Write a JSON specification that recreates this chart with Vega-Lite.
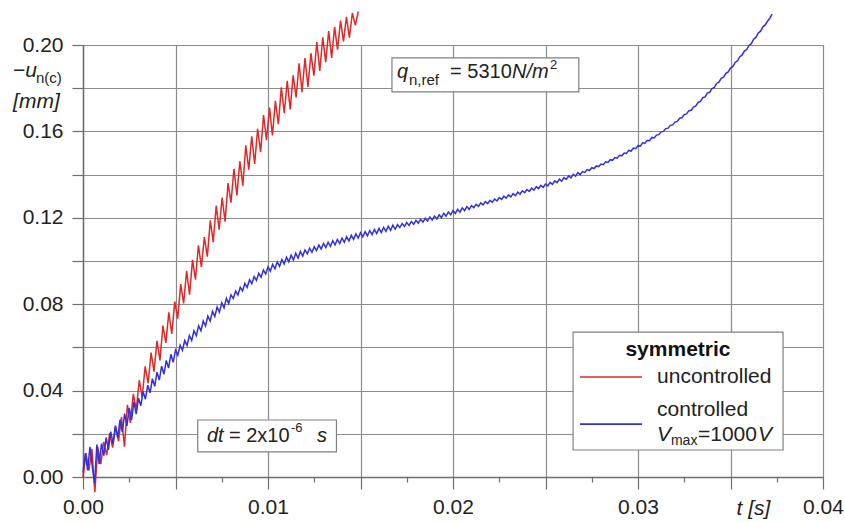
{
"$schema": "https://vega.github.io/schema/vega-lite/v6.json",
"width": 740, "height": 432,
"autosize": {"type": "none"},
"padding": {"left": 83, "top": 45, "right": 22, "bottom": 45},
"background": "white",
"config": {"view": {"stroke": null}, "font": "Liberation Sans",
 "axis": {"labelFont": "Liberation Sans", "labelFontSize": 21, "labelColor": "#222222", "domainColor": "#6e6e6e", "domainWidth": 1.5, "tickColor": "#6e6e6e", "tickWidth": 1.2, "gridColor": "#8c8c8c", "gridWidth": 1.2}},
"datasets": {
"uncontrolled": [
{"t":0,"u":0.0},{"t":0.00016,"u":0.011},{"t":0.00032,"u":0.003},{"t":0.00048,"u":0.013},{"t":0.00064,"u":-0.007},{"t":0.0008,"u":0.014},{"t":0.00096,"u":0.006},{"t":0.00112,"u":0.0163},{"t":0.00128,"u":0.0101},{"t":0.00144,"u":0.0203},{"t":0.0016,"u":0.0136},{"t":0.00176,"u":0.0234},{"t":0.00192,"u":0.0166},{"t":0.00208,"u":0.0278},{"t":0.00224,"u":0.014},{"t":0.0024,"u":0.0334},{"t":0.00256,"u":0.025},{"t":0.00272,"u":0.0385},{"t":0.00288,"u":0.0311},{"t":0.00304,"u":0.0448},{"t":0.0032,"u":0.037},{"t":0.00336,"u":0.0512},{"t":0.00352,"u":0.0434},{"t":0.00368,"u":0.0576},{"t":0.00384,"u":0.0488},{"t":0.004,"u":0.063},{"t":0.00416,"u":0.054},{"t":0.00432,"u":0.0701},{"t":0.00448,"u":0.0621},{"t":0.00464,"u":0.0762},{"t":0.0048,"u":0.0662},{"t":0.00496,"u":0.0812},{"t":0.00512,"u":0.0733},{"t":0.00528,"u":0.0893},{"t":0.00544,"u":0.0804},{"t":0.0056,"u":0.0954},{"t":0.00576,"u":0.0844},{"t":0.00592,"u":0.1005},{"t":0.00608,"u":0.0914},{"t":0.00624,"u":0.1073},{"t":0.0064,"u":0.0972},{"t":0.00656,"u":0.1111},{"t":0.00672,"u":0.102},{"t":0.00688,"u":0.1188},{"t":0.00704,"u":0.1087},{"t":0.0072,"u":0.1256},{"t":0.00736,"u":0.1145},{"t":0.00752,"u":0.1294},{"t":0.00768,"u":0.1182},{"t":0.00784,"u":0.1361},{"t":0.008,"u":0.127},{"t":0.00816,"u":0.1427},{"t":0.00832,"u":0.1304},{"t":0.00848,"u":0.1462},{"t":0.00864,"u":0.1349},{"t":0.0088,"u":0.1536},{"t":0.00896,"u":0.1423},{"t":0.00912,"u":0.1577},{"t":0.00928,"u":0.1449},{"t":0.00944,"u":0.1612},{"t":0.0096,"u":0.1504},{"t":0.00976,"u":0.1676},{"t":0.00992,"u":0.1559},{"t":0.01008,"u":0.171},{"t":0.01024,"u":0.1581},{"t":0.0104,"u":0.1742},{"t":0.01056,"u":0.1633},{"t":0.01072,"u":0.1804},{"t":0.01088,"u":0.1684},{"t":0.01104,"u":0.1834},{"t":0.0112,"u":0.1702},{"t":0.01136,"u":0.186},{"t":0.01152,"u":0.1757},{"t":0.01168,"u":0.1915},{"t":0.01184,"u":0.1782},{"t":0.012,"u":0.194},{"t":0.01216,"u":0.1806},{"t":0.01232,"u":0.1962},{"t":0.01248,"u":0.1858},{"t":0.01264,"u":0.2014},{"t":0.0128,"u":0.188},{"t":0.01296,"u":0.2036},{"t":0.01312,"u":0.1921},{"t":0.01328,"u":0.2065},{"t":0.01344,"u":0.194},{"t":0.0136,"u":0.2084},{"t":0.01376,"u":0.1978},{"t":0.01392,"u":0.2113},{"t":0.01408,"u":0.2017},{"t":0.01424,"u":0.213},{"t":0.0144,"u":0.2034},{"t":0.01456,"u":0.2148},{"t":0.01472,"u":0.2091},{"t":0.01488,"u":0.2155}
],
"controlled": [
{"t":0,"u":0.002},{"t":0.000125,"u":0.011},{"t":0.00025,"u":0.003},{"t":0.000375,"u":0.014},{"t":0.0005,"u":0.005},{"t":0.000625,"u":-0.003},{"t":0.00075,"u":0.015},{"t":0.000875,"u":0.006},
{"t":0.001,"u":0.0155},{"t":0.001125,"u":0.0099},{"t":0.00125,"u":0.0183},{"t":0.001375,"u":0.0126},{"t":0.0015,"u":0.021},{"t":0.001625,"u":0.0154},{"t":0.00175,"u":0.0238},{"t":0.001875,"u":0.0181},
{"t":0.002,"u":0.0265},{"t":0.002125,"u":0.0209},{"t":0.00225,"u":0.0293},{"t":0.002375,"u":0.0236},{"t":0.0025,"u":0.032},{"t":0.002625,"u":0.0264},{"t":0.00275,"u":0.0348},{"t":0.002875,"u":0.0291},
{"t":0.003,"u":0.0365},{"t":0.003125,"u":0.033},{"t":0.00325,"u":0.0395},{"t":0.003375,"u":0.036},{"t":0.0035,"u":0.0425},{"t":0.003625,"u":0.039},{"t":0.00375,"u":0.0455},{"t":0.003875,"u":0.042},
{"t":0.004,"u":0.0485},{"t":0.004125,"u":0.0449},{"t":0.00425,"u":0.0513},{"t":0.004375,"u":0.0476},{"t":0.0045,"u":0.054},{"t":0.004625,"u":0.0504},{"t":0.00475,"u":0.0568},{"t":0.004875,"u":0.0531},
{"t":0.005,"u":0.0587},{"t":0.005125,"u":0.0564},{"t":0.00525,"u":0.061},{"t":0.005375,"u":0.0587},{"t":0.0055,"u":0.0632},{"t":0.005625,"u":0.0609},{"t":0.00575,"u":0.0655},{"t":0.005875,"u":0.0632},
{"t":0.006,"u":0.0677},{"t":0.006125,"u":0.0654},{"t":0.00625,"u":0.07},{"t":0.006375,"u":0.0677},{"t":0.0065,"u":0.0722},{"t":0.006625,"u":0.0699},{"t":0.00675,"u":0.0745},{"t":0.006875,"u":0.0722},
{"t":0.007,"u":0.0767},{"t":0.007125,"u":0.0743},{"t":0.00725,"u":0.0787},{"t":0.007375,"u":0.0763},{"t":0.0075,"u":0.0807},{"t":0.007625,"u":0.0783},{"t":0.00775,"u":0.0827},{"t":0.007875,"u":0.0803},
{"t":0.008,"u":0.0843},{"t":0.008125,"u":0.0826},{"t":0.00825,"u":0.0861},{"t":0.008375,"u":0.0843},{"t":0.0085,"u":0.0878},{"t":0.008625,"u":0.0861},{"t":0.00875,"u":0.0896},{"t":0.008875,"u":0.0878},
{"t":0.009,"u":0.0913},{"t":0.009125,"u":0.0895},{"t":0.00925,"u":0.0928},{"t":0.009375,"u":0.091},{"t":0.0095,"u":0.0943},{"t":0.009625,"u":0.0925},{"t":0.00975,"u":0.0958},{"t":0.009875,"u":0.094},
{"t":0.01,"u":0.0973},{"t":0.010125,"u":0.0953},{"t":0.01025,"u":0.0984},{"t":0.010375,"u":0.0964},{"t":0.0105,"u":0.0996},{"t":0.010625,"u":0.0975},{"t":0.01075,"u":0.1007},{"t":0.010875,"u":0.0986},
{"t":0.011,"u":0.1018},{"t":0.011125,"u":0.0996},{"t":0.01125,"u":0.1027},{"t":0.011375,"u":0.1005},{"t":0.0115,"u":0.1036},{"t":0.011625,"u":0.1014},{"t":0.01175,"u":0.1044},{"t":0.011875,"u":0.1023},
{"t":0.012,"u":0.1051},{"t":0.012125,"u":0.1033},{"t":0.01225,"u":0.1059},{"t":0.012375,"u":0.104},{"t":0.0125,"u":0.1066},{"t":0.012625,"u":0.1048},{"t":0.01275,"u":0.1074},{"t":0.012875,"u":0.1055},
{"t":0.013,"u":0.1081},{"t":0.013125,"u":0.1062},{"t":0.01325,"u":0.1087},{"t":0.013375,"u":0.1068},{"t":0.0135,"u":0.1094},{"t":0.013625,"u":0.1075},{"t":0.01375,"u":0.11},{"t":0.013875,"u":0.1081},
{"t":0.014,"u":0.1106},{"t":0.014125,"u":0.1087},{"t":0.01425,"u":0.1112},{"t":0.014375,"u":0.1093},{"t":0.0145,"u":0.1119},{"t":0.014625,"u":0.11},{"t":0.01475,"u":0.1125},{"t":0.014875,"u":0.1106},
{"t":0.015,"u":0.1131},{"t":0.015125,"u":0.1112},{"t":0.01525,"u":0.1136},{"t":0.015375,"u":0.1117},{"t":0.0155,"u":0.1141},{"t":0.015625,"u":0.1122},{"t":0.01575,"u":0.1146},{"t":0.015875,"u":0.1127},
{"t":0.016,"u":0.1151},{"t":0.016125,"u":0.1132},{"t":0.01625,"u":0.1156},{"t":0.016375,"u":0.1137},{"t":0.0165,"u":0.1161},{"t":0.016625,"u":0.1142},{"t":0.01675,"u":0.1166},{"t":0.016875,"u":0.1147},
{"t":0.017,"u":0.1168},{"t":0.017125,"u":0.1155},{"t":0.01725,"u":0.1173},{"t":0.017375,"u":0.116},{"t":0.0175,"u":0.1178},{"t":0.017625,"u":0.1165},{"t":0.01775,"u":0.1183},{"t":0.017875,"u":0.117},
{"t":0.018,"u":0.1188},{"t":0.018125,"u":0.1175},{"t":0.01825,"u":0.1193},{"t":0.018375,"u":0.118},{"t":0.0185,"u":0.1198},{"t":0.018625,"u":0.1185},{"t":0.01875,"u":0.1203},{"t":0.018875,"u":0.119},
{"t":0.019,"u":0.1208},{"t":0.019125,"u":0.1195},{"t":0.01925,"u":0.1214},{"t":0.019375,"u":0.1201},{"t":0.0195,"u":0.1221},{"t":0.019625,"u":0.1208},{"t":0.01975,"u":0.1227},{"t":0.019875,"u":0.1214},
{"t":0.02,"u":0.1233},{"t":0.020125,"u":0.122},{"t":0.02025,"u":0.1239},{"t":0.020375,"u":0.1226},{"t":0.0205,"u":0.1246},{"t":0.020625,"u":0.1233},{"t":0.02075,"u":0.1252},{"t":0.020875,"u":0.1239},
{"t":0.021,"u":0.1256},{"t":0.021125,"u":0.1247},{"t":0.02125,"u":0.1262},{"t":0.021375,"u":0.1253},{"t":0.0215,"u":0.1269},{"t":0.021625,"u":0.126},{"t":0.02175,"u":0.1275},{"t":0.021875,"u":0.1266},
{"t":0.022,"u":0.1281},{"t":0.022125,"u":0.1272},{"t":0.02225,"u":0.1287},{"t":0.022375,"u":0.1278},{"t":0.0225,"u":0.1294},{"t":0.022625,"u":0.1285},{"t":0.02275,"u":0.13},{"t":0.022875,"u":0.1291},
{"t":0.023,"u":0.1306},{"t":0.023125,"u":0.1297},{"t":0.02325,"u":0.1312},{"t":0.023375,"u":0.1303},{"t":0.0235,"u":0.1319},{"t":0.023625,"u":0.131},{"t":0.02375,"u":0.1325},{"t":0.023875,"u":0.1316},
{"t":0.024,"u":0.1331},{"t":0.024125,"u":0.1322},{"t":0.02425,"u":0.1337},{"t":0.024375,"u":0.1328},{"t":0.0245,"u":0.1344},{"t":0.024625,"u":0.1335},{"t":0.02475,"u":0.135},{"t":0.024875,"u":0.1341},
{"t":0.025,"u":0.1356},{"t":0.025125,"u":0.1348},{"t":0.02525,"u":0.1364},{"t":0.025375,"u":0.1355},{"t":0.0255,"u":0.1371},{"t":0.025625,"u":0.1363},{"t":0.02575,"u":0.1379},{"t":0.025875,"u":0.137},
{"t":0.026,"u":0.1386},{"t":0.026125,"u":0.1378},{"t":0.02625,"u":0.1394},{"t":0.026375,"u":0.1385},{"t":0.0265,"u":0.1401},{"t":0.026625,"u":0.1393},{"t":0.02675,"u":0.1409},{"t":0.026875,"u":0.14},
{"t":0.027,"u":0.1414},{"t":0.027125,"u":0.141},{"t":0.02725,"u":0.1423},{"t":0.027375,"u":0.1419},{"t":0.0275,"u":0.1432},{"t":0.027625,"u":0.1428},{"t":0.02775,"u":0.144},{"t":0.027875,"u":0.1437},
{"t":0.028,"u":0.1449},{"t":0.028125,"u":0.1446},{"t":0.02825,"u":0.1459},{"t":0.028375,"u":0.1456},{"t":0.0285,"u":0.1469},{"t":0.028625,"u":0.1466},{"t":0.02875,"u":0.1479},{"t":0.028875,"u":0.1476},
{"t":0.029,"u":0.1489},{"t":0.029125,"u":0.1487},{"t":0.02925,"u":0.15},{"t":0.029375,"u":0.1498},{"t":0.0295,"u":0.1512},{"t":0.029625,"u":0.1509},{"t":0.02975,"u":0.1523},{"t":0.029875,"u":0.152},
{"t":0.03,"u":0.1534},{"t":0.030125,"u":0.1532},{"t":0.03025,"u":0.1547},{"t":0.030375,"u":0.1545},{"t":0.0305,"u":0.1559},{"t":0.030625,"u":0.1557},{"t":0.03075,"u":0.1572},{"t":0.030875,"u":0.157},
{"t":0.031,"u":0.1583},{"t":0.031125,"u":0.1585},{"t":0.03125,"u":0.1598},{"t":0.031375,"u":0.16},{"t":0.0315,"u":0.1613},{"t":0.031625,"u":0.1615},{"t":0.03175,"u":0.1628},{"t":0.031875,"u":0.163},
{"t":0.032,"u":0.1643},{"t":0.032125,"u":0.1646},{"t":0.03225,"u":0.1661},{"t":0.032375,"u":0.1663},{"t":0.0325,"u":0.1678},{"t":0.032625,"u":0.1681},{"t":0.03275,"u":0.1696},{"t":0.032875,"u":0.1698},
{"t":0.033,"u":0.1713},{"t":0.033125,"u":0.1718},{"t":0.03325,"u":0.1734},{"t":0.033375,"u":0.1739},{"t":0.0335,"u":0.1756},{"t":0.033625,"u":0.176},{"t":0.03375,"u":0.1777},{"t":0.033875,"u":0.1781},
{"t":0.034,"u":0.1798},{"t":0.034125,"u":0.1804},{"t":0.03425,"u":0.1822},{"t":0.034375,"u":0.1828},{"t":0.0345,"u":0.1846},{"t":0.034625,"u":0.1851},{"t":0.03475,"u":0.1869},{"t":0.034875,"u":0.1875},
{"t":0.035,"u":0.1893},{"t":0.035125,"u":0.19},{"t":0.03525,"u":0.1919},{"t":0.035375,"u":0.1926},{"t":0.0355,"u":0.1946},{"t":0.035625,"u":0.1953},{"t":0.03575,"u":0.1972},{"t":0.035875,"u":0.1979},
{"t":0.036,"u":0.1998},{"t":0.036125,"u":0.2006},{"t":0.03625,"u":0.2027},{"t":0.036375,"u":0.2035},{"t":0.0365,"u":0.2056},{"t":0.036625,"u":0.2064},{"t":0.03675,"u":0.2084},{"t":0.036875,"u":0.2093},
{"t":0.037,"u":0.211},{"t":0.037125,"u":0.2124},{"t":0.03725,"u":0.2143}
]
},
"layer": [
{"data": {"name": "uncontrolled"},
 "mark": {"type": "line", "strokeWidth": 1.5, "clip": false, "color": "#e32626"},
 "encoding": {
  "x": {"field": "t", "type": "quantitative",
   "scale": {"domain": [0, 0.04], "nice": false, "zero": false},
   "axis": {"values": [0,0.0025,0.005,0.0075,0.01,0.0125,0.015,0.0175,0.02,0.0225,0.025,0.0275,0.03,0.0325,0.035,0.0375,0.04],
    "grid": true,
    "gridOpacity": {"condition": {"test": "round(datum.value*400) % 2 == 0", "value": 1}, "value": 0},
    "tickSize": {"condition": {"test": "round(datum.value*400) % 2 == 0", "value": 12}, "value": 5},
    "labelExpr": "round(datum.value*400) % 4 == 0 ? format(datum.value, '.2f') : ''",
    "labelPadding": 7, "labelFlush": false, "labelOverlap": false,
    "title": "t [s]", "titleFontStyle": "italic", "titleFontWeight": "normal", "titleFontSize": 21, "titleFont": "Liberation Sans",
    "titleX": 670, "titleY": 31, "titleBaseline": "middle", "titleAlign": "center", "titleColor": "#222222"}},
  "y": {"field": "u", "type": "quantitative",
   "scale": {"domain": [0, 0.2], "nice": false, "zero": false},
   "axis": {"values": [0,0.01,0.02,0.03,0.04,0.05,0.06,0.07,0.08,0.09,0.1,0.11,0.12,0.13,0.14,0.15,0.16,0.17,0.18,0.19,0.2],
    "grid": true,
    "gridOpacity": {"condition": {"test": "round(datum.value*100) % 2 == 0", "value": 1}, "value": 0},
    "tickSize": {"condition": {"test": "round(datum.value*100) % 2 == 0", "value": 11}, "value": 5},
    "labelExpr": "round(datum.value*100) % 4 == 0 ? format(datum.value, '.2f') : ''",
    "labelPadding": 9, "labelFlush": false, "labelOverlap": false, "title": null}}
 }},
{"data": {"name": "controlled"},
 "mark": {"type": "line", "strokeWidth": 1.5, "clip": false, "color": "#3030dc"},
 "encoding": {
  "x": {"field": "t", "type": "quantitative"},
  "y": {"field": "u", "type": "quantitative"}
 }},
{"data": {"values": [
  {"t": 0.0167, "t2": 0.0268, "u": 0.1783, "u2": 0.194},
  {"t": 0.0062, "t2": 0.0137, "u": 0.0116, "u2": 0.0264},
  {"t": 0.02649, "t2": 0.03784, "u": 0.0125, "u2": 0.0671}]},
 "mark": {"type": "rect", "fill": "white", "stroke": "#808080", "strokeWidth": 1.2},
 "encoding": {
  "x": {"field": "t", "type": "quantitative"}, "x2": {"field": "t2"},
  "y": {"field": "u", "type": "quantitative"}, "y2": {"field": "u2"}
 }},
{"data": {"values": [{"t": 0.02686, "t2": 0.03022, "u": 0.0463}]},
 "mark": {"type": "rule", "color": "#e32626", "strokeWidth": 1.6},
 "encoding": {
  "x": {"field": "t", "type": "quantitative"}, "x2": {"field": "t2"},
  "y": {"field": "u", "type": "quantitative"}
 }},
{"data": {"values": [{"t": 0.02686, "t2": 0.03022, "u": 0.0245}]},
 "mark": {"type": "rule", "color": "#3030dc", "strokeWidth": 1.6},
 "encoding": {
  "x": {"field": "t", "type": "quantitative"}, "x2": {"field": "t2"},
  "y": {"field": "u", "type": "quantitative"}
 }},
{"data": {"values": [
  {"t": 0.01697, "u": 0.1847, "label": "q"},
  {"t": 0.02319, "u": 0.1847, "label": "N/m"},
  {"t": 0.0067, "u": 0.0162, "label": "dt"},
  {"t": 0.01265, "u": 0.0162, "label": "s"}]},
 "mark": {"type": "text", "align": "left", "baseline": "alphabetic", "font": "Liberation Sans", "fontSize": 20, "fontStyle": "italic", "color": "#222222"},
 "encoding": {
  "x": {"field": "t", "type": "quantitative"},
  "y": {"field": "u", "type": "quantitative"},
  "text": {"field": "label"}
 }},
{"data": {"values": [
  {"t": 0.01984, "u": 0.1847, "label": "= 5310"},
  {"t": 0.00789, "u": 0.0162, "label": "= 2x10"}]},
 "mark": {"type": "text", "align": "left", "baseline": "alphabetic", "font": "Liberation Sans", "fontSize": 20, "color": "#222222"},
 "encoding": {
  "x": {"field": "t", "type": "quantitative"},
  "y": {"field": "u", "type": "quantitative"},
  "text": {"field": "label"}
 }},
{"data": {"values": [
  {"t": 0.01762, "u": 0.1815, "label": "n,ref"},
  {"t": -0.00254, "u": 0.1824, "label": "n(c)"}]},
 "mark": {"type": "text", "align": "left", "baseline": "alphabetic", "font": "Liberation Sans", "fontSize": 15, "color": "#222222"},
 "encoding": {
  "x": {"field": "t", "type": "quantitative"},
  "y": {"field": "u", "type": "quantitative"},
  "text": {"field": "label"}
 }},
{"data": {"values": [
  {"t": 0.02524, "u": 0.1889, "label": "2"},
  {"t": 0.01124, "u": 0.0208, "label": "-6"}]},
 "mark": {"type": "text", "align": "left", "baseline": "alphabetic", "font": "Liberation Sans", "fontSize": 13, "color": "#222222"},
 "encoding": {
  "x": {"field": "t", "type": "quantitative"},
  "y": {"field": "u", "type": "quantitative"},
  "text": {"field": "label"}
 }},
{"data": {"values": [
  {"t": -0.00378, "u": 0.1852, "label": "−u"},
  {"t": -0.00378, "u": 0.1708, "label": "[mm]"}]},
 "mark": {"type": "text", "align": "left", "baseline": "alphabetic", "font": "Liberation Sans", "fontSize": 21, "fontStyle": "italic", "color": "#222222"},
 "encoding": {
  "x": {"field": "t", "type": "quantitative"},
  "y": {"field": "u", "type": "quantitative"},
  "text": {"field": "label"}
 }},
{"data": {"values": [{"t": 0.03216, "u": 0.0588, "label": "symmetric"}]},
 "mark": {"type": "text", "align": "center", "baseline": "middle", "font": "Liberation Sans", "fontSize": 21, "fontWeight": "bold", "color": "#111111"},
 "encoding": {
  "x": {"field": "t", "type": "quantitative"},
  "y": {"field": "u", "type": "quantitative"},
  "text": {"field": "label"}
 }},
{"data": {"values": [
  {"t": 0.03103, "u": 0.0463, "label": "uncontrolled"},
  {"t": 0.03103, "u": 0.031, "label": "controlled"},
  {"t": 0.03324, "u": 0.0194, "label": "=1000"}]},
 "mark": {"type": "text", "align": "left", "baseline": "middle", "font": "Liberation Sans", "fontSize": 21, "color": "#222222"},
 "encoding": {
  "x": {"field": "t", "type": "quantitative"},
  "y": {"field": "u", "type": "quantitative"},
  "text": {"field": "label"}
 }},
{"data": {"values": [
  {"t": 0.03103, "u": 0.0194, "label": "V"},
  {"t": 0.03649, "u": 0.0194, "label": "V"}]},
 "mark": {"type": "text", "align": "left", "baseline": "middle", "font": "Liberation Sans", "fontSize": 21, "fontStyle": "italic", "color": "#222222"},
 "encoding": {
  "x": {"field": "t", "type": "quantitative"},
  "y": {"field": "u", "type": "quantitative"},
  "text": {"field": "label"}
 }},
{"data": {"values": [{"t": 0.03178, "u": 0.0167, "label": "max"}]},
 "mark": {"type": "text", "align": "left", "baseline": "middle", "font": "Liberation Sans", "fontSize": 14, "color": "#222222"},
 "encoding": {
  "x": {"field": "t", "type": "quantitative"},
  "y": {"field": "u", "type": "quantitative"},
  "text": {"field": "label"}
 }}
]
}
